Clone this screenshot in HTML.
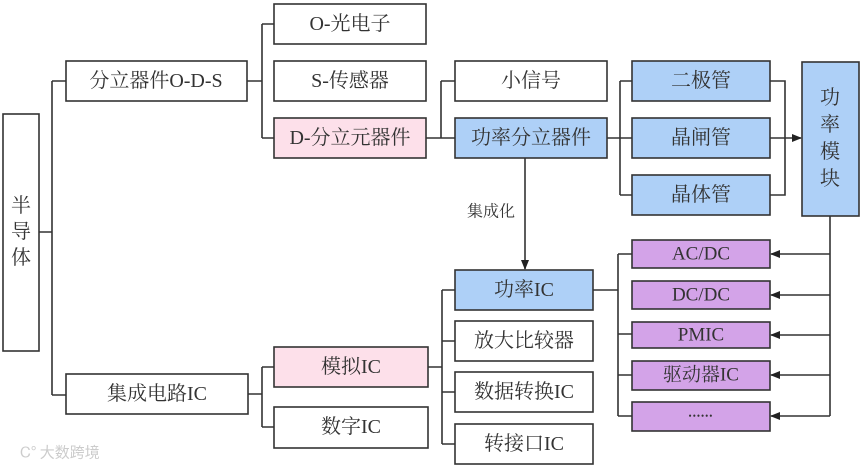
<!DOCTYPE html>
<html><head><meta charset="utf-8"><style>
html,body{margin:0;padding:0;background:#fff;}
svg text{font-family:"Liberation Serif","Noto Serif CJK SC","Noto Sans CJK SC",serif;font-size:20px;fill:#333;text-anchor:middle;dominant-baseline:central;}
</style></head><body>
<svg width="863" height="469" viewBox="0 0 863 469" xmlns="http://www.w3.org/2000/svg">
<defs><marker id="a" markerWidth="10" markerHeight="8" refX="9" refY="4" orient="auto" markerUnits="userSpaceOnUse"><path d="M0,0 L10,4 L0,8 z" fill="#222"/></marker></defs>
<g stroke="#333" stroke-width="1.6" fill="none">
<path d="M39,232 H52 M52,81 V395 M52,81 H66 M52,395 H66"/>
<path d="M247,81 H262 M262,24 V138 M262,24 H274 M262,138 H274"/>
<path d="M426,138 H455 M441,81 V138 M441,81 H455"/>
<path d="M607,138 H632 M620,81 V195 M620,81 H632 M620,195 H632"/>
<path d="M770,81 H785 V195 H770"/>
<path d="M770,138 H801" marker-end="url(#a)"/>
<path d="M525,158 V269" marker-end="url(#a)"/>
<path d="M248,394 H262 M262,367 V427 M262,367 H274 M262,427 H274"/>
<path d="M428,367 H442 M442,290 V444 M442,290 H455 M442,341 H455 M442,392 H455 M442,444 H455"/>
<path d="M593,290 H618 M618,254 V416 M618,254 H632 M618,334 H632 M618,375 H632 M618,416 H632"/>
<path d="M830,216 V416"/>
<path d="M830,254 H771" marker-end="url(#a)"/>
<path d="M830,295 H771" marker-end="url(#a)"/>
<path d="M830,335 H771" marker-end="url(#a)"/>
<path d="M830,375 H771" marker-end="url(#a)"/>
<path d="M830,416 H771" marker-end="url(#a)"/>
</g>
<g stroke="#333" stroke-width="1.6">
<rect x="3" y="114" width="36" height="237" fill="#fff"/>
<rect x="66" y="61" width="181" height="40" fill="#fff"/>
<rect x="274" y="4" width="152" height="40" fill="#fff"/>
<rect x="274" y="61" width="152" height="40" fill="#fff"/>
<rect x="274" y="118" width="152" height="40" fill="#fde0ea"/>
<rect x="455" y="61" width="152" height="40" fill="#fff"/>
<rect x="455" y="118" width="152" height="40" fill="#aed0f7"/>
<rect x="632" y="61" width="138" height="40" fill="#aed0f7"/>
<rect x="632" y="118" width="138" height="40" fill="#aed0f7"/>
<rect x="632" y="175" width="138" height="40" fill="#aed0f7"/>
<rect x="802" y="62" width="57" height="154" fill="#aed0f7"/>
<rect x="455" y="270" width="138" height="40" fill="#aed0f7"/>
<rect x="455" y="321" width="138" height="40" fill="#fff"/>
<rect x="455" y="372" width="138" height="40" fill="#fff"/>
<rect x="455" y="424" width="138" height="40" fill="#fff"/>
<rect x="274" y="347" width="154" height="40" fill="#fde0ea"/>
<rect x="274" y="407" width="154" height="41" fill="#fff"/>
<rect x="66" y="374" width="182" height="40" fill="#fff"/>
<rect x="632" y="240" width="138" height="28" fill="#d3a3e8"/>
<rect x="632" y="281" width="138" height="28" fill="#d3a3e8"/>
<rect x="632" y="322" width="138" height="26" fill="#d3a3e8"/>
<rect x="632" y="361" width="138" height="29" fill="#d3a3e8"/>
<rect x="632" y="402" width="138" height="29" fill="#d3a3e8"/>
</g>
<text x="21" y="206">半</text><text x="21" y="232">导</text><text x="21" y="258">体</text>
<text x="156" y="81">分立器件O-D-S</text>
<text x="350" y="24">O-光电子</text>
<text x="350" y="81">S-传感器</text>
<text x="350" y="138">D-分立元器件</text>
<text x="531" y="81">小信号</text>
<text x="531" y="138">功率分立器件</text>
<text x="701" y="81">二极管</text>
<text x="701" y="138">晶闸管</text>
<text x="701" y="195">晶体管</text>
<text x="830" y="98">功</text><text x="830" y="125">率</text><text x="830" y="152">模</text><text x="830" y="179">块</text>
<text x="491" y="212" style="font-size:16px">集成化</text>
<text x="524" y="290">功率IC</text>
<text x="524" y="341">放大比较器</text>
<text x="524" y="392">数据转换IC</text>
<text x="524" y="444">转接口IC</text>
<text x="351" y="367">模拟IC</text>
<text x="351" y="427">数字IC</text>
<text x="157" y="394">集成电路IC</text>
<text x="701" y="254" style="font-size:19px">AC/DC</text>
<text x="701" y="295" style="font-size:19px">DC/DC</text>
<text x="701" y="335" style="font-size:19px">PMIC</text>
<text x="701" y="375" style="font-size:19px">驱动器IC</text>
<text x="701" y="416" style="font-size:9px;letter-spacing:1px">••••••</text>
<text x="60" y="452" style="font-size:15px;fill:#ccc;font-family:'Noto Sans CJK SC',sans-serif">Ꮯ° 大数跨境</text>
</svg>
</body></html>
